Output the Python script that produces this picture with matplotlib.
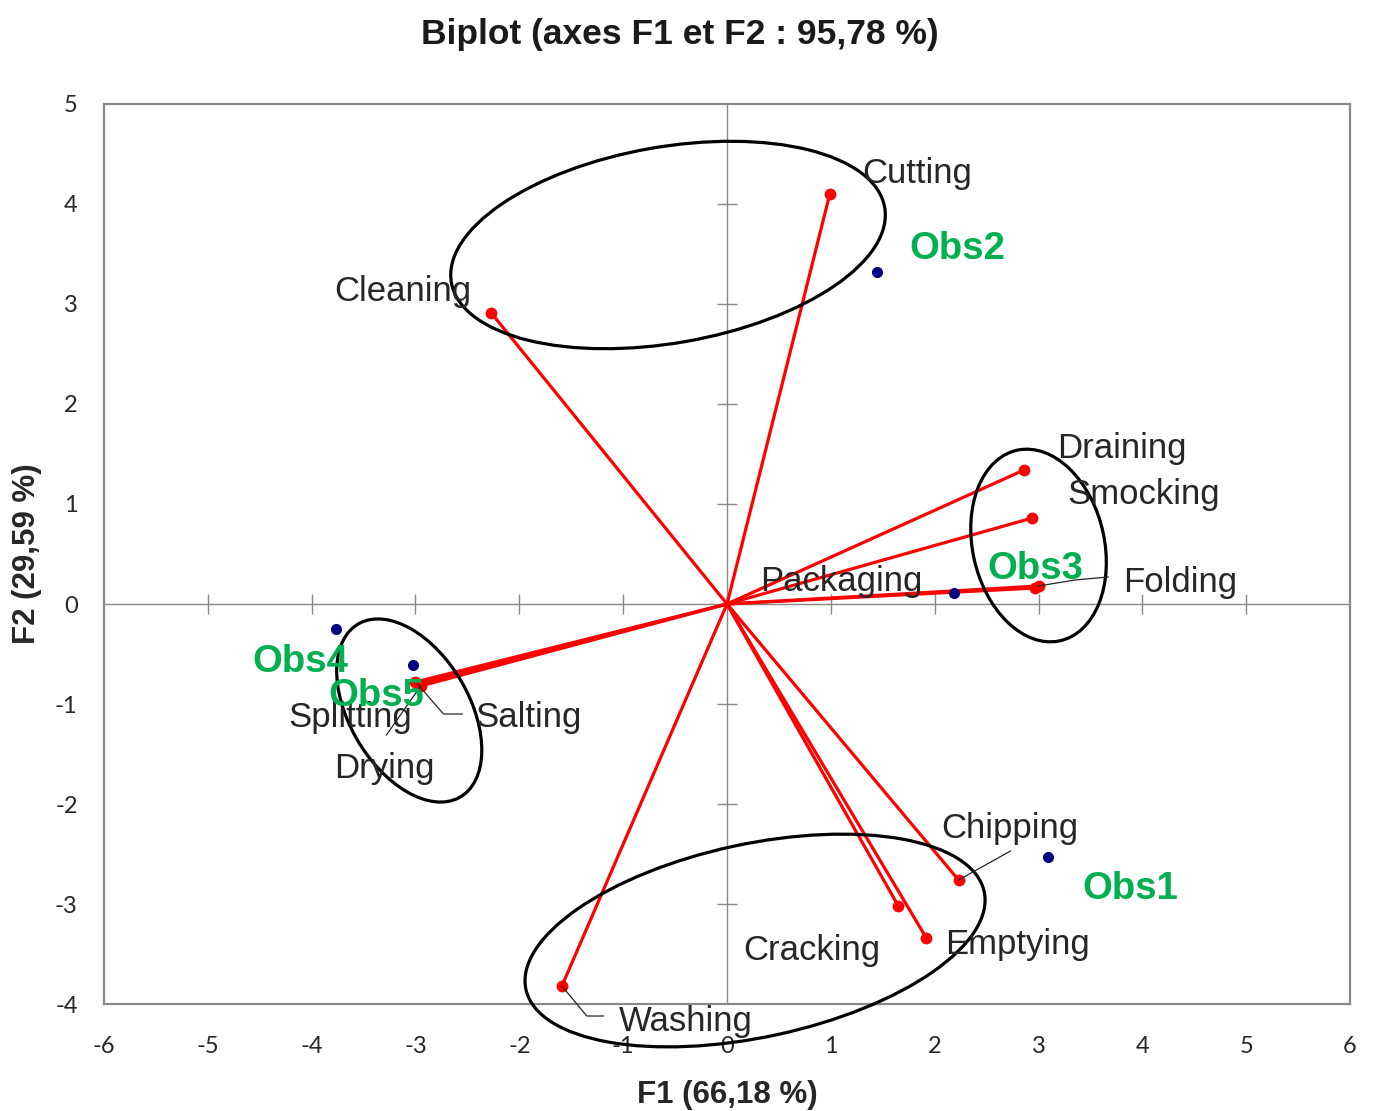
import numpy as np
import matplotlib
matplotlib.use("Agg")
import matplotlib.pyplot as plt
from matplotlib.patches import Ellipse

plt.rcParams["axes.unicode_minus"] = False

# ---------------- data ----------------
variables = ["Cutting", "Cleaning", "Draining", "Smocking", "Folding", "Packaging",
             "Chipping", "Cracking", "Emptying", "Washing", "Splitting", "Salting", "Drying"]
var_f1 = [0.99, -2.27, 2.86, 2.94, 3.00, 2.97, 2.23, 1.65, 1.92, -1.59, -3.00, -2.98, -2.95]
var_f2 = [4.10, 2.91, 1.34, 0.86, 0.18, 0.16, -2.76, -3.02, -3.34, -3.82, -0.78, -0.80, -0.82]

observations = ["Obs1", "Obs2", "Obs3", "Obs4", "Obs5"]
obs_f1 = [3.09, 1.44, 2.19, -3.77, -3.02]
obs_f2 = [-2.53, 3.32, 0.11, -0.25, -0.61]

x_ticks = [-6, -5, -4, -3, -2, -1, 0, 1, 2, 3, 4, 5, 6]
y_ticks = [-4, -3, -2, -1, 0, 1, 2, 3, 4, 5]

title = "Biplot (axes F1 et F2 : 95,78 %)"
x_label = "F1 (66,18 %)"
y_label = "F2 (29,59 %)"

# ---------------- layout (label placements, groupings) ----------------
var_label_pos = {
    "Cutting": (1.83, 4.30), "Cleaning": (-3.12, 3.12), "Draining": (3.80, 1.55),
    "Smocking": (4.01, 1.09), "Folding": (4.36, 0.22), "Packaging": (1.10, 0.23),
    "Chipping": (2.72, -2.24), "Cracking": (0.82, -3.46), "Emptying": (2.80, -3.40),
    "Washing": (-0.40, -4.17), "Splitting": (-3.63, -1.13), "Salting": (-1.91, -1.13),
    "Drying": (-3.30, -1.64),
}
# leader lines: intermediate/end points
leaders = {
    "Folding": [(3.35, 0.24), (3.67, 0.27)],
    "Chipping": [(2.73, -2.47)],
    "Washing": [(-1.35, -4.12), (-1.19, -4.12)],
    "Salting": [(-2.73, -1.10), (-2.55, -1.10)],
    "Drying": [(-3.28, -1.31)],
}
obs_label_pos = {
    "Obs1": (3.88, -2.85), "Obs2": (2.22, 3.55), "Obs3": (2.97, 0.35),
    "Obs4": (-4.11, -0.58), "Obs5": (-3.38, -0.92),
}
# ellipses: (center_x, center_y, width, height, angle)
ellipses = [
    (-0.568, 3.59, 4.24, 1.96, 10.4),
    (3.00, 0.585, 1.95, 1.27, 101.8),
    (-3.06, -1.065, 1.99, 1.16, 118.8),
    (0.27, -3.365, 4.52, 1.93, 12.65),
]

# ---------------- drawing ----------------
fig = plt.figure(figsize=(13.73, 11.11), dpi=100)
ax = fig.add_axes([0.0757, 0.0963, 0.9076, 0.8101])

ax.set_xlim(-6, 6)
ax.set_ylim(-4, 5)

grey = "#898989"
for s in ax.spines.values():
    s.set_color(grey)
    s.set_linewidth(1.6)

# central axes
ax.axhline(0, color=grey, lw=1.0, zorder=1)
ax.axvline(0, color=grey, lw=1.0, zorder=1)
xt_inner = [t for t in x_ticks if t not in (x_ticks[0], 0, x_ticks[-1])]
yt_inner = [t for t in y_ticks if t not in (y_ticks[0], 0, y_ticks[-1])]
ax.plot(xt_inner, [0] * len(xt_inner), ls="none",
        marker="|", ms=15, mew=1.0, color=grey, zorder=1)
ax.plot([0] * len(yt_inner), yt_inner, ls="none",
        marker="_", ms=15, mew=1.0, color=grey, zorder=1)

ax.set_xticks(x_ticks)
ax.set_yticks(y_ticks)
ax.tick_params(length=0, labelsize=17, colors="#262626")
ax.tick_params(axis="x", pad=23)
ax.tick_params(axis="y", pad=19)
for lab in ax.get_xticklabels() + ax.get_yticklabels():
    lab.set_family("Lato")

# vectors
for x, y in zip(var_f1, var_f2):
    ax.plot([0, x], [0, y], color="#FF0000", lw=2.3, zorder=3)
ax.plot(var_f1, var_f2, ls="none", marker="o", ms=7.5, color="#FF0000", zorder=4)

# observations
ax.plot(obs_f1, obs_f2, ls="none", marker="o", ms=7, color="#000080", zorder=4)

# ellipses
for cx, cy, w, h, a in ellipses:
    ax.add_patch(Ellipse((cx, cy), w, h, angle=a, fill=False, ec="black", lw=2.3,
                         zorder=5, clip_on=False))

# leader lines
for name, pts in leaders.items():
    i = variables.index(name)
    xs = [var_f1[i]] + [p[0] for p in pts]
    ys = [var_f2[i]] + [p[1] for p in pts]
    ax.plot(xs, ys, color="#262626", lw=0.9, zorder=6, clip_on=False)

# labels
for name in variables:
    lx, ly = var_label_pos[name]
    ax.text(lx, ly, name, fontsize=25, family="Liberation Sans", color="#262626",
            ha="center", va="center", zorder=7, clip_on=False)
for name in observations:
    lx, ly = obs_label_pos[name]
    ax.text(lx, ly, name, fontsize=27.5, family="Liberation Sans", fontweight="bold",
            color="#00B050", ha="center", va="center", zorder=7)

fig.text(0.495, 0.969, title, fontsize=25.5, family="Liberation Sans", fontweight="bold",
         color="#1a1a1a", ha="center", va="center")
ax.set_xlabel(x_label, fontsize=22.5, family="Liberation Sans", fontweight="bold",
              color="#262626")
ax.set_ylabel(y_label, fontsize=22.5, family="Liberation Sans", fontweight="bold",
              color="#262626")
ax.xaxis.set_label_coords(0.5, -0.101)
ax.yaxis.set_label_coords(-0.0618, 0.5)
ax.xaxis.label.set_va("center")
ax.yaxis.label.set_va("center")

fig.savefig("out.png", dpi=100, facecolor="white")
